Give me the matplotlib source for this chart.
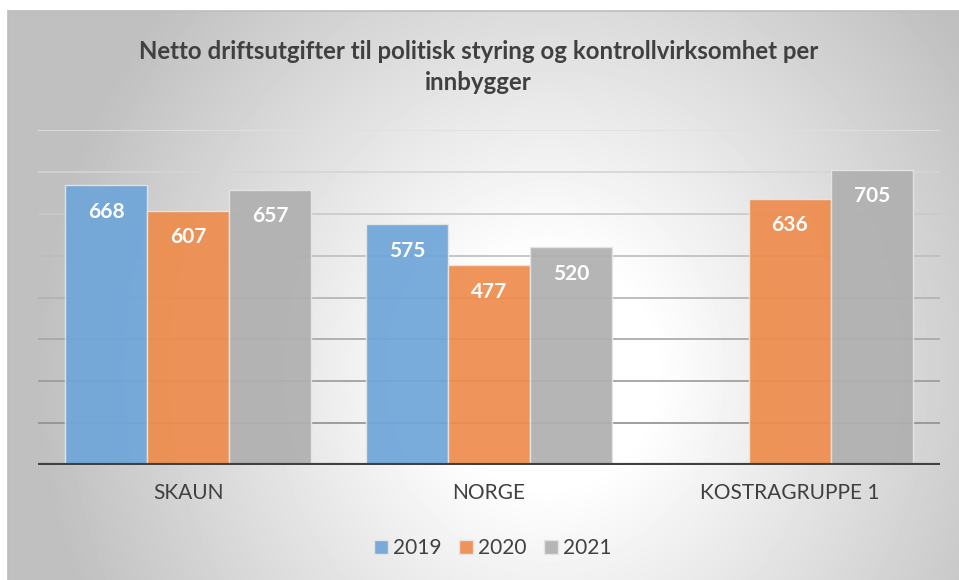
import numpy as np
import matplotlib
matplotlib.use("Agg")
import matplotlib.pyplot as plt

# Data
categories = ["SKAUN", "NORGE", "KOSTRAGRUPPE 1"]
years = ["2019", "2020", "2021"]
values_2019 = [668, 575, np.nan]
values_2020 = [607, 477, 636]
values_2021 = [657, 520, 705]
series = [values_2019, values_2020, values_2021]

title = "Netto driftsutgifter til politisk styring og kontrollvirksomhet per\ninnbygger"
colors = ["#6FA6D9", "#EE8C4D", "#B0B0B0"]
text_color = "#404040"

plt.rcParams["font.family"] = ["Lato", "DejaVu Sans"]

fig = plt.figure(figsize=(9.59, 5.8), dpi=100)

# Radial grey-to-white backdrop of the chart area
bg = fig.add_axes([8 / 959, 0, 1 - 8 / 959, 1 - 11 / 580], zorder=0)
h, w = 569, 951
yy, xx = np.mgrid[0:h, 0:w]
r = np.sqrt(((xx - 540) / 480.0) ** 2 + ((yy - 360) / 520.0) ** 2)
shade = 1 - 0.25 * np.clip((r - 0.22) / 0.85, 0, 1)
bg.imshow(shade, cmap="gray", vmin=0, vmax=1, aspect="auto", interpolation="bilinear")
bg.set_axis_off()
fig.add_artist(plt.Line2D([8 / 959, 1], [1 - 11 / 580] * 2, color="#bdbdbd", lw=1.2))
fig.add_artist(plt.Line2D([8 / 959] * 2, [0, 1 - 11 / 580], color="#bdbdbd", lw=1.2))

ax = fig.add_axes([38 / 959, 1 - 465 / 580, 902 / 959, 335 / 580], zorder=1)
ax.patch.set_alpha(0)

# Gridlines, lighter towards the top like the original
grid_vals = np.arange(100, 801, 100)
for gv in grid_vals:
    g = 0.56 + 0.32 * (gv - 100) / 700
    ax.axhline(gv, color=(g, g, g), lw=1.2, zorder=1)

x = np.arange(len(categories))
width = 0.2727
for i, (vals, col, yr) in enumerate(zip(series, colors, years)):
    pos = x + (i - 1) * width
    ax.bar(pos, vals, width, color=col, alpha=0.93, edgecolor="#e6e6e6",
           linewidth=1, label=yr, zorder=2)
    for px, v in zip(pos, vals):
        if np.isnan(v):
            continue
        ax.annotate(f"{v:.0f}", (px, v), xytext=(0, -19), textcoords="offset points",
                    ha="center", va="center", color="white", fontsize=15,
                    fontweight="bold", zorder=3)

ax.axhline(0, color="#404040", lw=3, zorder=4)
ax.set_xlim(-0.5, 2.5)
ax.set_ylim(0, 800)
ax.set_xticks(x)
ax.set_xticklabels(categories, fontsize=15, color=text_color)
ax.tick_params(axis="x", length=0, pad=13)
ax.set_yticks([])
for s in ax.spines.values():
    s.set_visible(False)

fig.text(0.499, 1 - 67 / 580, title, ha="center", va="center", fontsize=17.3,
         fontweight="bold", color=text_color, linespacing=1.45)

fig.legend(loc="center", bbox_to_anchor=(0.514, 1 - 548 / 580), ncol=3,
           frameon=False, fontsize=15, labelcolor=text_color, handlelength=0.65,
           handleheight=0.65, handletextpad=0.25, columnspacing=0.85)

fig.savefig("out.png", dpi=100)
